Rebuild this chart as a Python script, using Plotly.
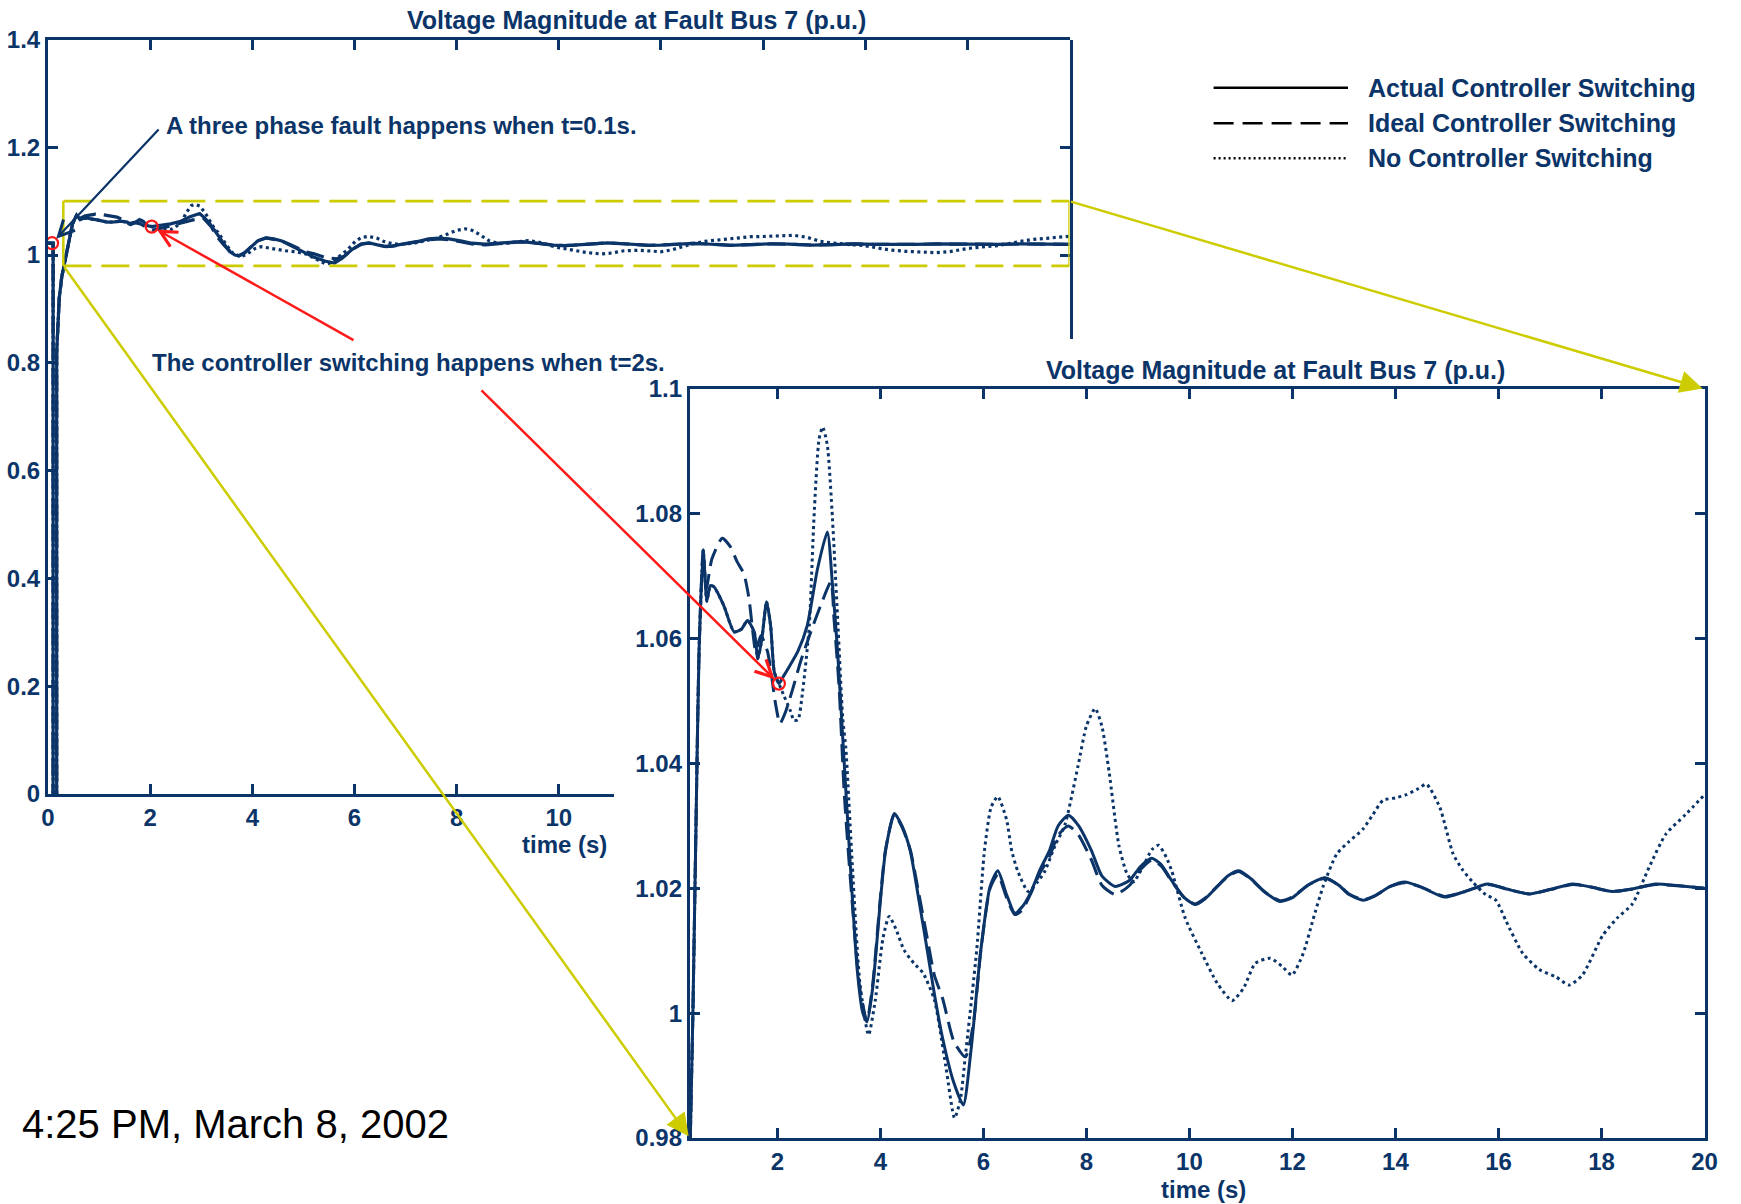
import plotly.graph_objects as go

# ---------------- data ----------------
series_names = ["Actual Controller Switching", "Ideal Controller Switching", "No Controller Switching"]

# common part: pre-fault, fault (t=0.1 s) and recovery
t_pre = [0, 0.1, 0.1, 0.17, 0.17, 0.22, 0.27, 0.31, 0.36, 0.42, 0.48, 0.56]
v_pre = [1.022, 1.022, 0.0, 0.0, 0.82, 0.92, 0.96, 0.98, 1.0, 1.03, 1.058, 1.0742]

# before the controller switching (actual == no controller)
t_early = [0.6, 0.63, 0.7, 0.77, 0.96, 1.16, 1.3, 1.42, 1.55, 1.62, 1.7, 1.79, 1.87, 1.94, 2.03]
v_early = [1.069, 1.066, 1.0685, 1.0683, 1.0653, 1.0611, 1.0615, 1.0629, 1.0611, 1.0568, 1.06,
           1.0659, 1.062, 1.0547, 1.0528]

t_actual = [2.12, 2.23, 2.4, 2.58, 2.78, 2.97, 3.07, 3.17, 3.27, 3.4, 3.55, 3.66, 3.74, 3.85, 4.0,
            4.1, 4.27, 4.42, 4.58, 4.75, 4.91, 5.05, 5.2, 5.42, 5.61, 5.76, 5.95, 6.13, 6.28, 6.45,
            6.61, 6.75, 6.91, 7.1, 7.28, 7.45, 7.65, 7.85, 8.1, 8.3, 8.56, 8.84, 9.05, 9.27, 9.45,
            9.65, 9.9, 10.11, 10.3, 10.54, 10.75, 10.96, 11.2, 11.45, 11.76, 12.0, 12.3, 12.63,
            12.9, 13.1, 13.37, 13.6, 13.9, 14.18, 14.5, 14.95, 15.35, 15.79, 16.2, 16.6, 17.0,
            17.44, 17.8, 18.21, 18.6, 19.05, 19.5, 20]
v_actual = [1.054, 1.0555, 1.058, 1.0621, 1.0712, 1.0771, 1.0686, 1.0579, 1.044, 1.026, 1.007, 1.0,
            0.9986, 1.004, 1.018, 1.026, 1.032, 1.03, 1.026, 1.018, 1.0101, 1.003, 0.9963, 0.989,
            0.9853, 0.9941, 1.0101, 1.0203, 1.0228, 1.019, 1.016, 1.017, 1.0192, 1.023, 1.026, 1.03,
            1.0317, 1.03, 1.026, 1.022, 1.0203, 1.0213, 1.0235, 1.0248, 1.0238, 1.0213, 1.0185,
            1.0174, 1.0183, 1.0203, 1.022, 1.0228, 1.0215, 1.0195, 1.0179, 1.0185, 1.0205, 1.0217,
            1.0205, 1.019, 1.0181, 1.0188, 1.0203, 1.021, 1.0202, 1.0186, 1.0195, 1.0207, 1.0198,
            1.0191, 1.0198, 1.0207, 1.0202, 1.0195, 1.0199, 1.0207, 1.0204, 1.020]

t_ideal = [0.62, 0.73, 0.93, 1.09, 1.22, 1.35, 1.45, 1.51, 1.58, 1.68, 1.81, 1.97, 2.05, 2.16, 2.3,
           2.45, 2.65, 2.84, 3.04, 3.1, 3.2, 3.3, 3.45, 3.6, 3.74, 3.85, 4.0, 4.1, 4.27, 4.42, 4.58,
           4.75, 4.91, 5.05, 5.21, 5.43, 5.65, 5.8, 5.95, 6.13, 6.28, 6.45, 6.61, 6.75, 6.91, 7.1,
           7.28, 7.45, 7.65, 7.85, 8.1, 8.3, 8.56, 8.84, 9.05, 9.27, 9.45, 9.65, 9.9, 10.11, 10.3,
           10.54, 10.75, 10.96, 11.2, 11.45, 11.76, 12.0, 12.3, 12.63, 12.9, 13.1, 13.37, 13.6,
           13.9, 14.18, 14.5, 14.95, 15.35, 15.79, 16.2, 16.6, 17.0, 17.44, 17.8, 18.21, 18.6,
           19.05, 19.5, 20]
v_ideal = [1.068, 1.0728, 1.0761, 1.0747, 1.0723, 1.0704, 1.0664, 1.0621, 1.058, 1.0605, 1.0579,
           1.0493, 1.0464, 1.0483, 1.052, 1.0563, 1.0611, 1.0653, 1.0691, 1.0632, 1.052, 1.035,
           1.018, 1.004, 0.9988, 1.0045, 1.0185, 1.0262, 1.0318, 1.0298, 1.0262, 1.019, 1.012,
           1.006, 1.0023, 0.9954, 0.993, 0.998, 1.01, 1.02, 1.0222, 1.0185, 1.0158, 1.0165, 1.019,
           1.0225, 1.025, 1.0285, 1.030, 1.0285, 1.0245, 1.0205, 1.019, 1.0205, 1.023, 1.0245,
           1.0236, 1.0212, 1.0185, 1.0175, 1.0184, 1.0203, 1.0219, 1.0227, 1.0214, 1.0195, 1.018,
           1.0186, 1.0205, 1.0216, 1.0205, 1.0191, 1.0182, 1.0188, 1.0203, 1.0209, 1.0202, 1.0187,
           1.0195, 1.0206, 1.0198, 1.0191, 1.0198, 1.0206, 1.0202, 1.0195, 1.0199, 1.0206, 1.0204,
           1.020]

t_noctrl = [2.12, 2.26, 2.32, 2.4, 2.49, 2.62, 2.71, 2.81, 2.88, 2.97, 3.07, 3.17, 3.27, 3.33, 3.44,
            3.6, 3.77, 3.9, 4.05, 4.17, 4.3, 4.46, 4.65, 4.83, 5.05, 5.27, 5.44, 5.55, 5.65, 5.87,
            6.02, 6.15, 6.28, 6.45, 6.55, 6.67, 6.87, 7.05, 7.19, 7.4, 7.58, 7.84, 8.0, 8.17, 8.3,
            8.44, 8.63, 8.78, 8.91, 9.1, 9.27, 9.4, 9.55, 9.66, 9.92, 10.24, 10.54, 10.83, 11.05,
            11.28, 11.57, 11.8, 11.99, 12.21, 12.4, 12.6, 12.86, 13.1, 13.37, 13.56, 13.76, 14.0,
            14.21, 14.45, 14.6, 14.86, 15.12, 15.3, 15.5, 15.75, 15.95, 16.15, 16.47, 16.79, 17.12,
            17.37, 17.63, 18.02, 18.3, 18.6, 18.92, 19.25, 19.63, 20]
v_noctrl = [1.051, 1.0483, 1.0469, 1.047, 1.0515, 1.0621, 1.0792, 1.092, 1.0939, 1.091, 1.0792,
            1.0632, 1.0472, 1.0424, 1.026, 1.005, 0.9965, 1.002, 1.012, 1.0155, 1.0135, 1.0101,
            1.008, 1.0064, 1.0021, 0.9915, 0.9832, 0.986, 0.9932, 1.0101, 1.026, 1.033, 1.0347,
            1.031, 1.026, 1.0227, 1.0195, 1.021, 1.0227, 1.027, 1.0301, 1.0397, 1.046, 1.0488,
            1.046, 1.0387, 1.0269, 1.0225, 1.021, 1.0235, 1.0262, 1.0269, 1.025, 1.0227, 1.0152,
            1.0096, 1.0048, 1.002, 1.004, 1.008, 1.0088, 1.0075, 1.0061, 1.0096, 1.015, 1.0204,
            1.0255, 1.0275, 1.0295, 1.0318, 1.0341, 1.0345, 1.035, 1.036, 1.0367, 1.033, 1.0255,
            1.023, 1.021, 1.019, 1.0181, 1.0147, 1.0096, 1.007, 1.0058, 1.0045, 1.0061, 1.0124,
            1.0152, 1.0175, 1.0233, 1.0287, 1.0318, 1.035]

# red circles: fault instant and controller switching instant
mark_t = [0.08, 2.03]
mark_v = [1.022, 1.0528]

# axis ranges / ticks
left_xrange = [0, 20]
left_yrange = [0, 1.4]
zoom_xrange = [0.3, 20]
zoom_yrange = [0.98, 1.1]
zoom_xticks = [2, 4, 6, 8, 10, 12, 14, 16, 18, 20]
zoom_yticks = [0.98, 1.0, 1.02, 1.04, 1.06, 1.08, 1.1]
zoom_yticktext = ["0.98", "1", "1.02", "1.04", "1.06", "1.08", "1.1"]

# ---------------- styling / layout constants ----------------
W, H = 1741, 1204
NAVY = "#0B3468"
YELLOW = "#CCCC00"
RED = "#FF1A1A"
FONT = "Liberation Sans, Arial, Helvetica, sans-serif"

LP = dict(l=48, r=1069.5, t=39.5, b=794)      # left panel box (px)
ZP = dict(l=689.8, r=1704.5, t=389, b=1138)   # zoom panel box (px)
CUT_X, CUT_Y = 614, 338.6                     # where the zoom panel covers the left panel

dash_styles = ["solid", "18px,8px", "3px,3.5px"]


def dom_x(p):
    return [p["l"] / W, p["r"] / W]


def dom_y(p):
    return [1 - p["b"] / H, 1 - p["t"] / H]


def to_px(p, xr, yr, x, y):
    px = p["l"] + (x - xr[0]) / (xr[1] - xr[0]) * (p["r"] - p["l"])
    py = p["b"] - (y - yr[0]) / (yr[1] - yr[0]) * (p["b"] - p["t"])
    return px, py


series = [
    (t_pre + t_early + t_actual, v_pre + v_early + v_actual),
    (t_pre + t_ideal, v_pre + v_ideal),
    (t_pre + t_early + t_noctrl, v_pre + v_early + v_noctrl),
]

fig = go.Figure()

for (xa, ya) in [("x", "y"), ("x2", "y2")]:
    shape = "linear" if xa == "x" else "spline"
    for i in [2, 1, 0]:
        ts, vs = series[i]
        fig.add_trace(go.Scatter(
            x=ts, y=vs, mode="lines", name=series_names[i], xaxis=xa, yaxis=ya,
            line=dict(color=NAVY, width=3.2 if xa == "x" else 3, dash=dash_styles[i],
                      shape=shape, smoothing=0.6),
            showlegend=False, hoverinfo="skip"))
    fig.add_trace(go.Scatter(
        x=mark_t, y=mark_v, mode="markers", xaxis=xa, yaxis=ya, showlegend=False,
        cliponaxis=(xa == "x2"), hoverinfo="skip",
        marker=dict(symbol="circle-open", size=12, color=RED, line=dict(width=2.2, color=RED))))

# empty traces so that the partial frame axes exist
fig.add_trace(go.Scatter(x=[], y=[], xaxis="x3", yaxis="y", showlegend=False))
fig.add_trace(go.Scatter(x=[], y=[], xaxis="x", yaxis="y4", showlegend=False))

x_cut_val = left_xrange[0] + (CUT_X - LP["l"]) / (LP["r"] - LP["l"]) * (left_xrange[1] - left_xrange[0])
y_cut_val = left_yrange[1] - (CUT_Y - LP["t"]) / (LP["b"] - LP["t"]) * (left_yrange[1] - left_yrange[0])

tickfont = dict(family=FONT, size=24, color=NAVY, weight="bold")
common = dict(showline=True, linecolor=NAVY, linewidth=3, ticks="inside", ticklen=10, tickwidth=2.5,
              tickcolor=NAVY, showgrid=False, zeroline=False, tickfont=tickfont, fixedrange=True,
              automargin=False)

fig.update_layout(
    width=W, height=H, margin=dict(l=0, r=0, t=0, b=0, autoexpand=False),
    paper_bgcolor="white", plot_bgcolor="rgba(0,0,0,0)", showlegend=False,
    font=dict(family=FONT, size=24, color=NAVY),
    xaxis=dict(domain=dom_x(LP), range=left_xrange, anchor="y", side="top",
               tick0=0, dtick=2, showticklabels=False, **common),
    yaxis=dict(domain=dom_y(LP), range=left_yrange, anchor="x", side="left",
               tick0=0, dtick=0.2, **common),
    xaxis3=dict(domain=[LP["l"] / W, CUT_X / W], range=[left_xrange[0], x_cut_val], anchor="y",
                side="bottom", tick0=0, dtick=2, **common),
    yaxis4=dict(domain=[1 - CUT_Y / H, 1 - LP["t"] / H], range=[y_cut_val, left_yrange[1]],
                anchor="x", side="right", tick0=0, dtick=0.2, showticklabels=False, **common),
    xaxis2=dict(domain=dom_x(ZP), range=zoom_xrange, anchor="y2", mirror="ticks",
                tickvals=zoom_xticks, **common),
    yaxis2=dict(domain=dom_y(ZP), range=zoom_yrange, anchor="x2", mirror="ticks",
                tickvals=zoom_yticks, ticktext=zoom_yticktext, **common),
)

# zoom-region box on the left panel
box = dict(xref="x", yref="y", layer="above")
x0b, x1b = zoom_xrange
y0b, y1b = zoom_yrange
shapes = [
    dict(type="line", x0=x0b, x1=x1b, y0=y1b, y1=y1b, line=dict(color=YELLOW, width=2.7, dash="28px,10px"), **box),
    dict(type="line", x0=x0b, x1=x1b, y0=y0b, y1=y0b, line=dict(color=YELLOW, width=2.7, dash="28px,10px"), **box),
    dict(type="line", x0=x0b, x1=x0b, y0=y0b, y1=y1b, line=dict(color=YELLOW, width=2.5), **box),
    dict(type="line", x0=x1b, x1=x1b, y0=y0b, y1=y1b, line=dict(color=YELLOW, width=2.5), **box),
]

# hand-made legend (long sample lines, black as in the original)
LEG_X0, LEG_X1, LEG_TX = 1213.6, 1348, 1366
LEG_Y = [87.7, 123.3, 158.3]
legend_dash = ["solid", "20px,9px", "2px,3px"]
for i in range(3):
    shapes.append(dict(type="line", xref="paper", yref="paper", x0=LEG_X0 / W, x1=LEG_X1 / W,
                       y0=1 - LEG_Y[i] / H, y1=1 - LEG_Y[i] / H,
                       line=dict(color="black", width=2.5, dash=legend_dash[i])))
fig.update_layout(shapes=shapes)


def label(text, px, py, size=24, xanchor="left", color=NAVY, weight="bold"):
    return dict(x=px / W, y=1 - py / H, xref="paper", yref="paper", text=text, showarrow=False,
                xanchor=xanchor, yanchor="middle",
                font=dict(family=FONT, size=size, color=color, weight=weight))


def arrow(panel, xr, yr, xref, yref, tip, tail_px, color, head, size, width, standoff=0):
    tx, ty = to_px(panel, xr, yr, tip[0], tip[1])
    return dict(x=tip[0], y=tip[1], xref=xref, yref=yref, ax=tail_px[0] - tx, ay=tail_px[1] - ty,
                axref="pixel", ayref="pixel", text="", showarrow=True, arrowhead=head,
                arrowsize=size, arrowwidth=width, arrowcolor=color, standoff=standoff)


ann = [
    label("Voltage Magnitude at Fault Bus 7 (p.u.)", 636, 20, size=25, xanchor="center"),
    label("Voltage Magnitude at Fault Bus 7 (p.u.)", 1275, 370, size=25, xanchor="center"),
    label("A three phase fault happens when t=0.1s.", 164, 125.5),
    label("The controller switching happens when t=2s.", 150, 362),
    label("time (s)", 608.5, 844, xanchor="right"),
    label("time (s)", 1203.6, 1189, xanchor="center"),
    label("4:25 PM, March 8, 2002", 20, 1123.6, size=40, color="black", weight="normal"),
]
for i in range(3):
    ann.append(label(series_names[i], LEG_TX, LEG_Y[i], size=25))

# arrows
fault_pt = (mark_t[0], mark_v[0])
switch_pt = (mark_t[1], mark_v[1])
ann.append(arrow(LP, left_xrange, left_yrange, "x", "y", fault_pt, (160, 128), NAVY, 5, 1.4, 2.2, 6))
ann.append(arrow(LP, left_xrange, left_yrange, "x", "y", switch_pt, (355, 341), RED, 5, 1.3, 2.5, 6))
ann.append(arrow(ZP, zoom_xrange, zoom_yrange, "x2", "y2", switch_pt, (480, 389), RED, 5, 1.3, 2.5, 6))
# yellow guide arrows from the zoom box to the zoom panel corners
ann.append(arrow(ZP, zoom_xrange, zoom_yrange, "x2", "y2", (zoom_xrange[1], zoom_yrange[1]),
                 to_px(LP, left_xrange, left_yrange, zoom_xrange[1], zoom_yrange[1]), YELLOW, 2, 1.8, 2.5, 2))
ann.append(arrow(ZP, zoom_xrange, zoom_yrange, "x2", "y2", (zoom_xrange[0], zoom_yrange[0]),
                 to_px(LP, left_xrange, left_yrange, zoom_xrange[0], zoom_yrange[0]), YELLOW, 2, 1.8, 2.5, 2))
fig.update_layout(annotations=ann)

fig.write_html("out.html", config={"displayModeBar": False},
               post_script="document.body.style.margin='0';")
